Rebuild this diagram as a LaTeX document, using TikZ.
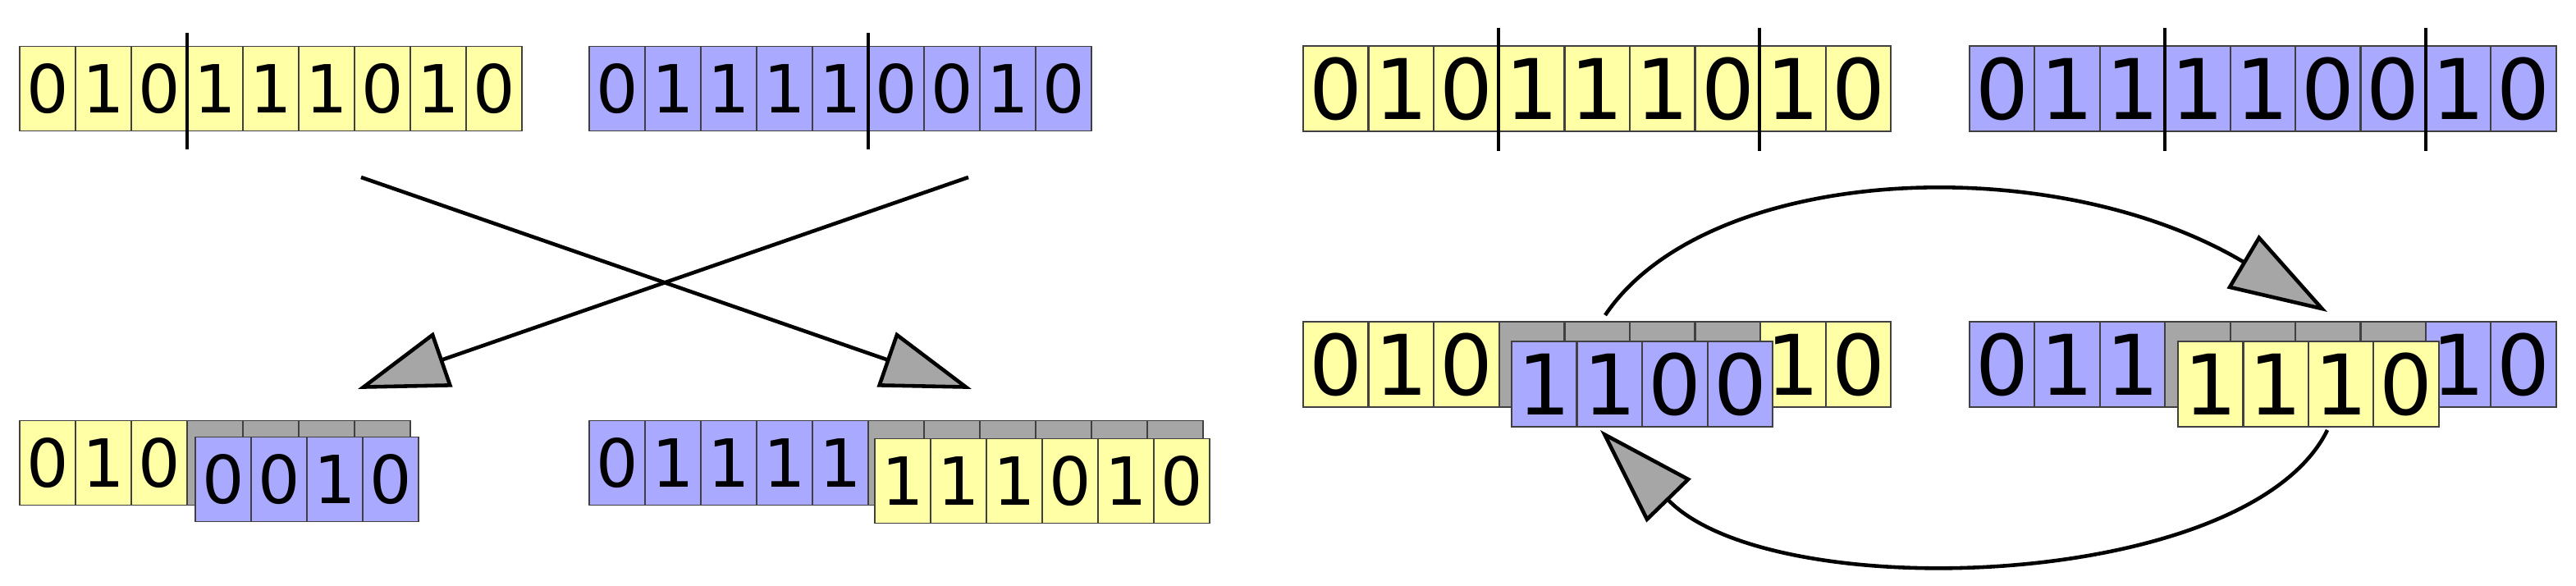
\documentclass[tikz,border=0pt]{standalone}
\usepackage{fontspec}
\setmainfont{DejaVu Sans}
\usetikzlibrary{arrows.meta}
\definecolor{cy}{HTML}{FFFFA6}
\definecolor{cb}{HTML}{A9A9FF}
\definecolor{cg}{HTML}{A6A6A6}
\begin{document}
\begin{tikzpicture}[x=0.02cm,y=-0.02cm,
  cellS/.style={draw=black!75,line width=0.5pt,inner sep=0pt,minimum width=0.68cm,minimum height=1.03cm,font=\fontsize{23}{23}\selectfont},
  cellL/.style={draw=black!75,line width=0.6pt,inner sep=0pt,minimum width=0.794cm,minimum height=1.04cm,font=\fontsize{29}{29}\selectfont},
  divider/.style={line width=1pt},
  arr/.style={line width=1.3pt,-{Triangle[length=1.1cm,width=0.7cm,fill=cg]}},
  arrR/.style={line width=1.3pt,-{Triangle[length=1.2cm,width=0.75cm,fill=cg]}}]
\useasboundingbox (0,0) rectangle (1569.5,356.5);
% ---- left top
\foreach \b [count=\i] in {0,1,0,1,1,1,0,1,0}
  \node[cellS,fill=cy] (ly\i) at ({12+34*(\i-0.5)},54) {\b};
\foreach \b [count=\i] in {0,1,1,1,1,0,0,1,0}
  \node[cellS,fill=cb] (lb\i) at ({359+34*(\i-0.5)},54) {\b};
\draw[divider] (114,20) -- (114,91);
\draw[divider] (529,20) -- (529,91);
% ---- left bottom
\foreach \b [count=\i] in {0,1,0}
  \node[cellS,fill=cy] (lby\i) at ({12+34*(\i-0.5)},282) {\b};
\foreach \i in {4,...,7}
  \node[cellS,fill=cg] (lbg\i) at ({12+34*(\i-0.5)},282) {};
\foreach \b [count=\i] in {0,0,1,0}
  \node[cellS,fill=cb] (lbb\i) at ({119+34*(\i-0.5)},292) {\b};
\foreach \b [count=\i] in {0,1,1,1,1}
  \node[cellS,fill=cb] (lbx\i) at ({359+34*(\i-0.5)},282) {\b};
\foreach \i in {6,...,11}
  \node[cellS,fill=cg] (lbh\i) at ({359+34*(\i-0.5)},282) {};
\foreach \b [count=\i] in {1,1,1,0,1,0}
  \node[cellS,fill=cy] (lbz\i) at ({533+34*(\i-0.5)},293) {\b};
% ---- left arrows
\coordinate (a1s) at (220,108); \coordinate (a1e) at (592,237);
\coordinate (a2s) at (590,108); \coordinate (a2e) at (218,237);
\draw[arr] (a1s) -- (a1e);
\draw[arr] (a2s) -- (a2e);
% ---- right top
\foreach \b [count=\i] in {0,1,0,1,1,1,0,1,0}
  \node[cellL,fill=cy] (ry\i) at ({794+39.8*(\i-0.5)},54) {\b};
\foreach \b [count=\i] in {0,1,1,1,1,0,0,1,0}
  \node[cellL,fill=cb] (rb\i) at ({1200+39.7*(\i-0.5)},54) {\b};
\draw[divider] (913,17) -- (913,92);
\draw[divider] (1072,17) -- (1072,92);
\draw[divider] (1319,17) -- (1319,92);
\draw[divider] (1478,17) -- (1478,92);
% ---- right bottom
\foreach \b/\c [count=\i] in {0/cy,1/cy,0/cy,/cg,/cg,/cg,/cg,1/cy,0/cy}
  \node[cellL,fill=\c] (rby\i) at ({794+39.8*(\i-0.5)},222) {\b};
\foreach \b [count=\i] in {1,1,0,0}
  \node[cellL,fill=cb] (rbb\i) at ({921+39.8*(\i-0.5)},234) {\b};
\foreach \b/\c [count=\i] in {0/cb,1/cb,1/cb,/cg,/cg,/cg,/cg,1/cb,0/cb}
  \node[cellL,fill=\c] (rbx\i) at ({1200+39.7*(\i-0.5)},222) {\b};
\foreach \b [count=\i] in {1,1,1,0}
  \node[cellL,fill=cy] (rbz\i) at ({1327+39.7*(\i-0.5)},234) {\b};
% ---- right arrows
\coordinate (c1s) at (978,192); \coordinate (c1e) at (1418,190);
\coordinate (c2s) at (1418,262); \coordinate (c2e) at (975,262);
\draw[arrR] (c1s) .. controls (1040,100) and (1250,90) .. (c1e);
\draw[arrR] (c2s) .. controls (1370,360) and (1080,370) .. (c2e);
\end{tikzpicture}
\end{document}
